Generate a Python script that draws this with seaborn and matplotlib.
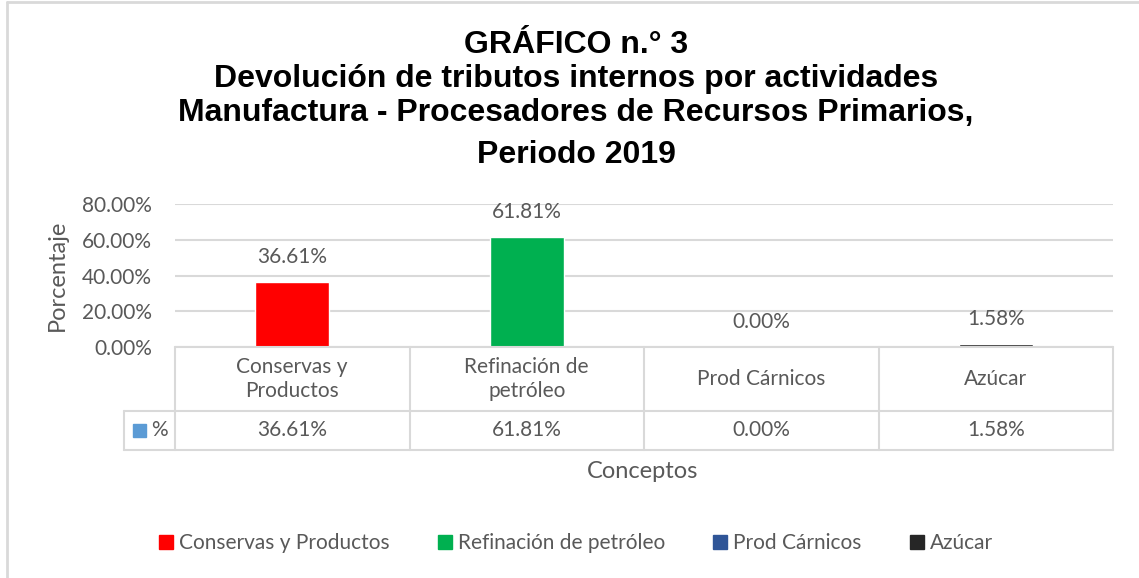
import pandas as pd
import matplotlib.pyplot as plt
import matplotlib.transforms as mtransforms
from matplotlib.lines import Line2D
from matplotlib.patches import Patch, Rectangle
import seaborn as sns

categorias = ['Conservas y Productos', 'Refinación de petróleo', 'Prod Cárnicos', 'Azúcar']
etiquetas_tabla = ['Conservas y\nProductos', 'Refinación de\npetróleo', 'Prod Cárnicos', 'Azúcar']
porcentajes = [36.61, 61.81, 0.00, 1.58]
colores = ['#FF0000', '#00B050', '#2F5597', '#262626']
yticks = [0, 20, 40, 60, 80]
titulos = ['GRÁFICO n.° 3',
           'Devolución de tributos internos por actividades',
           'Manufactura - Procesadores de Recursos Primarios,',
           'Periodo 2019']

sns.set_theme(style='white')
plt.rcParams['font.family'] = ['Lato', 'DejaVu Sans']
gris = '#595959'
linea = '#D9D9D9'
fs = 15

W, H = 1139, 578
fig = plt.figure(figsize=(W / 100, H / 100), dpi=100)
ax = fig.add_axes([175 / W, 1 - 347 / H, 938 / W, 143 / H])

df = pd.DataFrame({'Concepto': categorias, 'Porcentaje': porcentajes})
sns.barplot(data=df, x='Concepto', y='Porcentaje', hue='Concepto',
            hue_order=categorias, order=categorias, palette=colores,
            width=0.316, saturation=1, legend=False, ax=ax)

# etiquetas sobre las barras
for i, v in enumerate(porcentajes):
    ax.annotate(f'{v:.2f}%', (i, v), xytext=(0, 18), textcoords='offset points',
                ha='center', va='center', fontsize=fs, color=gris)

ax.set_yticks(yticks)
ax.set_yticklabels([f'{v:.2f}%' for v in yticks])
ax.yaxis.grid(True, color=linea, lw=1.5)
ax.set_axisbelow(True)
for s in ax.spines.values():
    s.set_visible(False)
ax.tick_params(axis='y', length=0, pad=16.5, labelsize=fs, labelcolor=gris)
ax.set_xticks([])
ax.set_xlabel('')
ax.set_ylabel('')

# tabla de datos
trans = mtransforms.blended_transform_factory(ax.transData, ax.transAxes)
y0, y1, y2 = 0, -64 / 143, -103 / 143
xl = -0.5 - 51 / 234.5
n = len(categorias)
segs = [([-0.5, n - 0.5], [y0, y0]), ([xl, n - 0.5], [y1, y1]), ([xl, n - 0.5], [y2, y2]),
        ([xl, xl], [y1, y2])]
for k in range(n + 1):
    segs.append(([k - 0.5, k - 0.5], [y0, y2]))
for xs, ys in segs:
    ax.add_line(Line2D(xs, ys, transform=trans, color=linea, lw=1.5, clip_on=False))
for i, (lab, v) in enumerate(zip(etiquetas_tabla, porcentajes)):
    ax.text(i, (y0 + y1) / 2, lab, transform=trans, ha='center', va='center',
            fontsize=fs, color=gris, linespacing=1.3)
    ax.text(i, (y1 + y2) / 2, f'{v:.2f}%', transform=trans, ha='center', va='center',
            fontsize=fs, color=gris)
fig.add_artist(Rectangle((133 / W, 1 - 437 / H), 13 / W, 13 / H,
                         transform=fig.transFigure, color='#5B9BD5'))
fig.text(151 / W, 1 - 430 / H, '%', ha='left', va='center', fontsize=fs, color=gris)

ax.set_xlim(-0.5, n - 0.5)
ax.set_ylim(0, 80)

fig.text(57 / W, 1 - 275 / H, 'Porcentaje', rotation=90, ha='center', va='center',
         fontsize=17, color=gris)
fig.text(643 / W, 1 - 472 / H, 'Conceptos', ha='center', va='center',
         fontsize=17, color=gris)

for t, yy in zip(titulos, [45, 79, 113, 155]):
    fig.text(576 / W, 1 - yy / H, t, ha='center', va='center', fontsize=23,
             fontweight='bold', family='Liberation Sans', color='black')

handles = [Patch(color=c) for c in colores]
fig.legend(handles, categorias, loc='center', bbox_to_anchor=(576 / W, 1 - 543 / H),
           ncol=4, frameon=False, fontsize=fs, handlelength=0.67, handleheight=0.67,
           handletextpad=0.3, columnspacing=2.3, labelcolor=gris)

# marco del grafico
fig.add_artist(Line2D([7 / W, 7 / W], [0, 1 - 2 / H], transform=fig.transFigure, color=linea, lw=2))
fig.add_artist(Line2D([7 / W, 1], [1 - 2 / H, 1 - 2 / H], transform=fig.transFigure, color=linea, lw=2))

fig.savefig('out.png', dpi=100)
